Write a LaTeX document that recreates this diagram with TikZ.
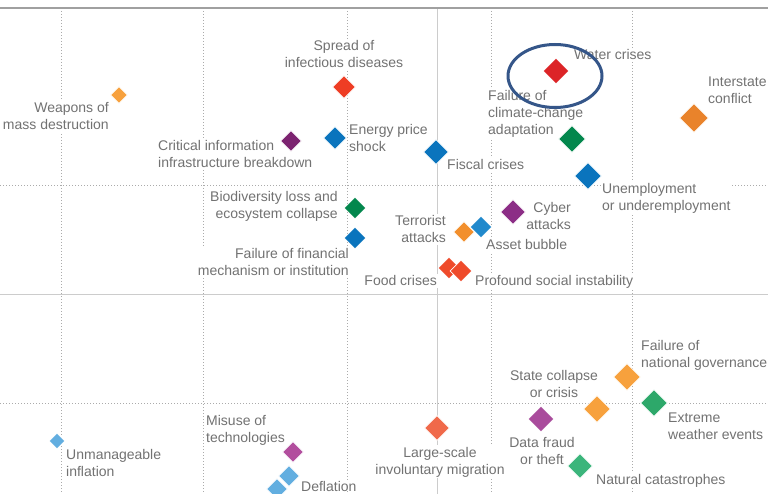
\documentclass[tikz,border=0pt]{standalone}
\usepackage{fontspec}
\setmainfont{Liberation Sans}
\usepackage{tikz}
\usetikzlibrary{shapes.geometric}
\definecolor{txtgray}{HTML}{727272}
\definecolor{gridgray}{HTML}{ABABAB}
\definecolor{axisgray}{HTML}{CCCCCC}
\definecolor{topgray}{HTML}{A0A0A0}
\definecolor{cOrangeL}{HTML}{F7A13D}
\definecolor{cOrangeD}{HTML}{E9832B}
\definecolor{cOrangeM}{HTML}{F28F2C}
\definecolor{cRedA}{HTML}{EE3D24}
\definecolor{cRedB}{HTML}{DC2427}
\definecolor{cRedC}{HTML}{EF4B2B}
\definecolor{cRedD}{HTML}{F0694A}
\definecolor{cPurpleA}{HTML}{7C2370}
\definecolor{cPurpleB}{HTML}{8C2D86}
\definecolor{cPurpleC}{HTML}{A94C9C}
\definecolor{cMagenta}{HTML}{B24E9E}
\definecolor{cBlue}{HTML}{0A74BD}
\definecolor{cBlueB}{HTML}{2189CC}
\definecolor{cBlueL}{HTML}{62AEE0}
\definecolor{cGreenA}{HTML}{03874D}
\definecolor{cGreenB}{HTML}{2DA86A}
\definecolor{cGreenC}{HTML}{3BB57B}
\definecolor{cRing}{HTML}{355689}
\tikzstyle{risk}=[shape=diamond, inner sep=0pt, draw=white, line width=0.8pt, minimum size=22pt]
\tikzstyle{lab}=[inner xsep=1pt, inner ysep=1.5pt, fill=white, text=txtgray, font=\fontsize{14}{17}\selectfont]
\tikzstyle{gridline}=[draw=gridgray, line width=0.8pt, dash pattern=on 1pt off 2pt]
\tikzstyle{axisline}=[draw=axisgray, line width=1pt]
\tikzstyle{ring}=[shape=ellipse, draw=cRing, line width=3pt, minimum width=94pt, minimum height=63pt]

\begin{document}
\begin{tikzpicture}[x=1pt, y=-1pt]
	\useasboundingbox (0,0) rectangle (768,494);
	% grid
	\foreach \gx in {61,203,347,491,632}
		\draw[gridline] (\gx,8) -- (\gx,494);
	\draw[gridline] (0,185) -- (768,185);
	\draw[gridline] (0,403) -- (768,403);
	\draw[axisline] (437,8) -- (437,494);
	\draw[axisline] (0,294) -- (768,294);
	\draw[draw=topgray, line width=1.2pt] (0,8) -- (768,8);
	% labels (base = last line)
	\draw (110,130) node[lab, anchor=base east, align=right] (wmdL) {Weapons of\\mass destruction};
	\draw (344,68) node[lab, anchor=base, align=center] (spreadL) {Spread of\\infectious diseases};
	\draw (157,168) node[lab, anchor=base west, align=left] (ciiL) {Critical information\\infrastructure breakdown};
	\draw (348,152) node[lab, anchor=base west, align=left] (energyL) {Energy price\\shock};
	\draw (573,60) node[lab, anchor=base west] (waterL) {Water crises};
	\draw (487,135) node[lab, anchor=base west, align=left] (climateL) {Failure of\\climate-change\\adaptation};
	\draw (707,104) node[lab, anchor=base west, align=left] (interstateL) {Interstate\\conflict};
	\draw (446,170) node[lab, anchor=base west] (fiscalL) {Fiscal crises};
	\draw (601,211) node[lab, anchor=base west, align=left] (unemployL) {Unemployment\\or underemployment};
	\draw (339,219) node[lab, anchor=base east, align=right] (biodivL) {Biodiversity loss and\\ecosystem collapse};
	\draw (350,276) node[lab, anchor=base east, align=right] (financialL) {Failure of financial\\mechanism or institution};
	\draw (572,230) node[lab, anchor=base east, align=right] (cyberL) {Cyber\\attacks};
	\draw (447,243) node[lab, anchor=base east, align=right] (terrorL) {Terrorist\\attacks};
	\draw (485,250) node[lab, anchor=base west] (assetL) {Asset bubble};
	\draw (438,286) node[lab, anchor=base east] (foodL) {Food crises};
	\draw (474,286) node[lab, anchor=base west] (socialL) {Profound social instability};
	\draw (640,367) node[lab, anchor=base west, align=left] (governL) {Failure of\\national governance};
	\draw (554,397) node[lab, anchor=base, align=center] (stateL) {State collapse\\or crisis};
	\draw (667,439) node[lab, anchor=base west, align=left] (weatherL) {Extreme\\weather events};
	\draw (542,464) node[lab, anchor=base, align=center] (fraudL) {Data fraud\\or theft};
	\draw (595,484) node[lab, anchor=base west] (naturalL) {Natural catastrophes};
	\draw (440,474) node[lab, anchor=base, align=center] (migrationL) {Large-scale\\involuntary migration};
	\draw (205,442) node[lab, anchor=base west, align=left] (misuseL) {Misuse of\\technologies};
	\draw (300,491) node[lab, anchor=base west, inner ysep=0pt] (deflationL) {Deflation};
	\draw (65,476) node[lab, anchor=base west, align=left] (inflationL) {Unmanageable\\inflation};
	% risks
	\draw (119,95) node[risk, fill=cOrangeL, minimum size=17pt] (wmd) {};
	\draw (344,87) node[risk, fill=cRedA, minimum size=23pt] (spread) {};
	\draw (291,141) node[risk, fill=cPurpleA, minimum size=21pt] (cii) {};
	\draw (335,138) node[risk, fill=cBlue, minimum size=23pt] (energy) {};
	\draw (556,71) node[risk, fill=cRedB, minimum size=26pt] (water) {};
	\draw (572,139) node[risk, fill=cGreenA, minimum size=27pt] (climate) {};
	\draw (694,118) node[risk, fill=cOrangeD, minimum size=29pt] (interstate) {};
	\draw (436,152) node[risk, fill=cBlue, minimum size=25pt] (fiscal) {};
	\draw (588,176) node[risk, fill=cBlue, minimum size=27pt] (unemploy) {};
	\draw (355,208) node[risk, fill=cGreenA] (biodiv) {};
	\draw (355,238) node[risk, fill=cBlue] (financial) {};
	\draw (513,212) node[risk, fill=cPurpleB, minimum size=25pt] (cyber) {};
	\draw (464,232) node[risk, fill=cOrangeM, minimum size=21pt] (terror) {};
	\draw (481,227) node[risk, fill=cBlueB] (asset) {};
	\draw (449,268) node[risk, fill=cRedC] (food) {};
	\draw (461,271) node[risk, fill=cRedC] (social) {};
	\draw (627,377) node[risk, fill=cOrangeL, minimum size=27pt] (govern) {};
	\draw (597,409) node[risk, fill=cOrangeL, minimum size=27pt] (state) {};
	\draw (654,403) node[risk, fill=cGreenB, minimum size=27pt] (weather) {};
	\draw (541,419) node[risk, fill=cPurpleC, minimum size=26pt] (fraud) {};
	\draw (580,466) node[risk, fill=cGreenC, minimum size=25pt] (natural) {};
	\draw (437,428) node[risk, fill=cRedD, minimum size=25pt] (migration) {};
	\draw (293,452) node[risk, fill=cMagenta, minimum size=21pt] (misuse) {};
	\draw (277,489) node[risk, fill=cBlueL, minimum size=21pt] (deflationB) {};
	\draw (289,476) node[risk, fill=cBlueL, minimum size=21pt] (deflation) {};
	\draw (57,441) node[risk, fill=cBlueL, minimum size=16pt] (inflation) {};
	% highlight
	\draw (555,76) node[ring] (waterRing) {};
\end{tikzpicture}
\end{document}
